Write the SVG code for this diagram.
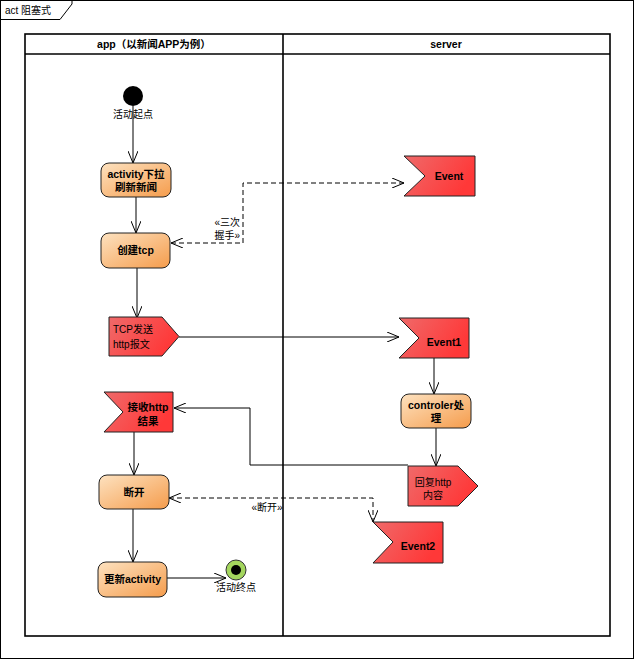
<svg xmlns="http://www.w3.org/2000/svg" width="635" height="661" viewBox="0 0 635 661">
<style>
text{font-family:"Liberation Sans","Noto Sans CJK SC",sans-serif;font-size:10px;fill:#000}
.b{font-weight:bold;font-size:10.5px}
.act{fill:url(#gOr);stroke:#222;stroke-width:1}
.sig{fill:url(#gRed);stroke:#222;stroke-width:1}
.ln{fill:none;stroke:#000;stroke-width:1}
.dash{fill:none;stroke:#000;stroke-width:1;stroke-dasharray:5,3}
.lane{fill:none;stroke:#000;stroke-width:1.6}
</style>
<defs>
<linearGradient id="gOr" x1="0" y1="0" x2="1" y2="1">
<stop offset="0" stop-color="#fde2c0"/>
<stop offset="1" stop-color="#f59c4c"/>
</linearGradient>
<linearGradient id="gRed" x1="0" y1="0" x2="1" y2="0.4">
<stop offset="0" stop-color="#ef6a6a"/>
<stop offset="1" stop-color="#ff3838"/>
</linearGradient>
<marker id="arr" viewBox="0 0 12 10" refX="12" refY="5" markerWidth="12" markerHeight="10" markerUnits="userSpaceOnUse" orient="auto-start-reverse">
<path d="M0,0 L12,5 L0,10" fill="none" stroke="#000" stroke-width="1"/>
</marker>
</defs>
<rect width="635" height="661" fill="#fff"/>
<g id="frame">
<rect x="0.5" y="0.5" width="633" height="658" fill="none" stroke="#000" stroke-width="1"/>
<path d="M0.5,19.5 H60 L72,4 V0.5" fill="none" stroke="#000" stroke-width="1"/>
<text x="5" y="14">act 阻塞式</text>
</g>
<g id="lanes">
<rect x="25" y="34" width="585" height="602" class="lane"/>
<line x1="25" y1="54" x2="610" y2="54" class="lane"/>
<line x1="283" y1="34" x2="283" y2="636" class="lane"/>
<text x="154" y="48" class="b" text-anchor="middle">app（以新闻APP为例）</text>
<text x="446" y="48" class="b" text-anchor="middle">server</text>
</g>
<g id="connectors">
<line x1="133" y1="106" x2="133" y2="163" class="ln" marker-end="url(#arr)"/>
<line x1="136" y1="197" x2="136" y2="233" class="ln" marker-end="url(#arr)"/>
<line x1="137" y1="268" x2="137" y2="318" class="ln" marker-end="url(#arr)"/>
<polyline points="171,243 243,243 243,183 404,183" class="dash" marker-start="url(#arr)" marker-end="url(#arr)"/>
<text x="240" y="226" text-anchor="end">«三次</text>
<text x="240" y="239" text-anchor="end">握手»</text>
<line x1="179" y1="337" x2="399" y2="337" class="ln" marker-end="url(#arr)"/>
<line x1="434" y1="358" x2="434" y2="394" class="ln" marker-end="url(#arr)"/>
<line x1="436" y1="428" x2="436" y2="466" class="ln" marker-end="url(#arr)"/>
<polyline points="408,465 250,465 250,408 174,408" class="ln" marker-end="url(#arr)"/>
<line x1="134" y1="432" x2="134" y2="475" class="ln" marker-end="url(#arr)"/>
<polyline points="169,498 373,498 373,522" class="dash" marker-start="url(#arr)" marker-end="url(#arr)"/>
<text x="267" y="511" text-anchor="middle">«断开»</text>
<line x1="133" y1="509" x2="133" y2="562" class="ln" marker-end="url(#arr)"/>
<line x1="167" y1="578" x2="226" y2="578" class="ln" marker-end="url(#arr)"/>
</g>
<g id="start">
<circle cx="133" cy="96" r="10" fill="#000"/>
<text x="133" y="118" text-anchor="middle">活动起点</text>
</g>
<g id="act1">
<rect x="101" y="163" width="70" height="34" rx="8" class="act"/>
<text x="136" y="178" class="b" text-anchor="middle">activity下拉</text>
<text x="136" y="191" class="b" text-anchor="middle">刷新新闻</text>
</g>
<g id="act2">
<rect x="101" y="233" width="69" height="35" rx="8" class="act"/>
<text x="135.5" y="254" class="b" text-anchor="middle">创建tcp</text>
</g>
<g id="send1">
<polygon points="109,317 162,317 179,336.5 162,356 109,356" class="sig"/>
<text x="113" y="333">TCP发送</text>
<text x="113" y="348">http报文</text>
</g>
<g id="event">
<polygon points="404,156 475,156 475,196 404,196 425,176" class="sig"/>
<text x="449" y="180" class="b" text-anchor="middle">Event</text>
</g>
<g id="event1">
<polygon points="399,318 469,318 469,358 399,358 419,338" class="sig"/>
<text x="444" y="346" class="b" text-anchor="middle">Event1</text>
</g>
<g id="controler">
<rect x="401" y="394" width="70" height="34" rx="8" class="act"/>
<text x="436" y="409" class="b" text-anchor="middle">controler处</text>
<text x="436" y="422" class="b" text-anchor="middle">理</text>
</g>
<g id="send2">
<polygon points="408,466 458,466 478,486 458,506 408,506" class="sig"/>
<text x="433" y="486" text-anchor="middle">回复http</text>
<text x="433" y="499" text-anchor="middle">内容</text>
</g>
<g id="recv">
<polygon points="104,392 173,392 173,432 104,432 123,412" class="sig"/>
<text x="148" y="411" class="b" text-anchor="middle">接收http</text>
<text x="148" y="425" class="b" text-anchor="middle">结果</text>
</g>
<g id="event2">
<polygon points="373,522 443,522 443,563 373,563 393,542" class="sig"/>
<text x="418" y="550" class="b" text-anchor="middle">Event2</text>
</g>
<g id="act3">
<rect x="99" y="475" width="70" height="34" rx="8" class="act"/>
<text x="134" y="496" class="b" text-anchor="middle">断开</text>
</g>
<g id="act4">
<rect x="98" y="562" width="69" height="35" rx="8" class="act"/>
<text x="132.5" y="583" class="b" text-anchor="middle">更新activity</text>
</g>
<g id="end">
<circle cx="236" cy="570" r="10" fill="#a4d65e" stroke="#333" stroke-width="1"/>
<circle cx="236" cy="570" r="5" fill="#000"/>
<text x="236" y="591" text-anchor="middle">活动终点</text>
</g>
</svg>
